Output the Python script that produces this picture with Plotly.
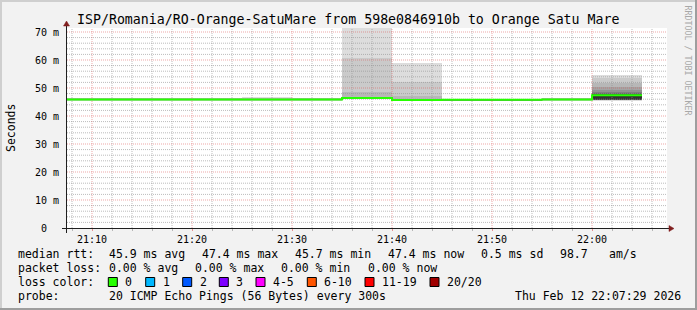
import pandas as pd
import plotly.graph_objects as go

# ---------------- data ----------------
DATE = "2026-02-12"
interval_start = ["21:05", "21:10", "21:15", "21:20", "21:25", "21:30",
                  "21:35", "21:40", "21:45", "21:50", "21:55", "22:00"]
STEP_S = 300
median_rtt_ms = [45.9, 45.9, 45.9, 45.9, 45.9, 45.9, 46.4, 45.7, 45.8, 45.8, 45.9, 47.4]
# 20 sorted ping RTTs (ms) per 5-minute interval
ping_rtt_ms = [
    [45.7, 45.7, 45.8, 45.8, 45.8, 45.8, 45.9, 45.9, 45.9, 45.9, 45.9, 45.9, 45.9, 46.0, 46.0, 46.0, 46.0, 46.1, 46.1, 46.2],
    [45.7, 45.7, 45.8, 45.8, 45.8, 45.8, 45.9, 45.9, 45.9, 45.9, 45.9, 45.9, 45.9, 46.0, 46.0, 46.0, 46.0, 46.1, 46.1, 46.2],
    [45.7, 45.7, 45.8, 45.8, 45.8, 45.8, 45.9, 45.9, 45.9, 45.9, 45.9, 45.9, 45.9, 46.0, 46.0, 46.0, 46.0, 46.1, 46.1, 46.2],
    [45.7, 45.7, 45.8, 45.8, 45.8, 45.8, 45.9, 45.9, 45.9, 45.9, 45.9, 45.9, 45.9, 46.0, 46.0, 46.0, 46.0, 46.1, 46.3, 46.6],
    [45.7, 45.7, 45.8, 45.8, 45.8, 45.8, 45.9, 45.9, 45.9, 45.9, 45.9, 45.9, 45.9, 46.0, 46.0, 46.0, 46.0, 46.1, 46.3, 46.7],
    [45.7, 45.7, 45.8, 45.8, 45.8, 45.8, 45.9, 45.9, 45.9, 45.9, 45.9, 45.9, 45.9, 46.0, 46.0, 46.0, 46.0, 46.1, 46.1, 46.2],
    [45.9, 46.0, 46.0, 46.1, 46.1, 46.2, 46.2, 46.3, 46.3, 46.4, 46.4, 46.4, 46.5, 46.5, 46.6, 46.6, 46.7, 48.5, 60.6, 76.0],
    [45.5, 45.5, 45.6, 45.6, 45.6, 45.7, 45.7, 45.7, 45.7, 45.7, 45.7, 45.8, 45.8, 45.8, 45.9, 45.9, 46.0, 47.2, 52.2, 58.8],
    [45.6, 45.6, 45.7, 45.7, 45.7, 45.7, 45.8, 45.8, 45.8, 45.8, 45.8, 45.8, 45.8, 45.9, 45.9, 45.9, 45.9, 46.0, 46.0, 46.1],
    [45.6, 45.6, 45.7, 45.7, 45.7, 45.7, 45.8, 45.8, 45.8, 45.8, 45.8, 45.8, 45.8, 45.9, 45.9, 45.9, 45.9, 46.0, 46.0, 46.1],
    [45.7, 45.7, 45.8, 45.8, 45.8, 45.8, 45.9, 45.9, 45.9, 45.9, 45.9, 45.9, 45.9, 46.0, 46.0, 46.0, 46.0, 46.1, 46.3, 46.6],
    [45.5, 45.6, 45.6, 45.7, 45.7, 45.7, 45.8, 45.8, 45.8, 45.9, 47.7, 47.8, 47.9, 48.1, 48.4, 49.3, 50.3, 51.9, 53.6, 54.8],
]
y_tick_vals = [0, 10, 20, 30, 40, 50, 60, 70]
y_tick_text = ["0\u00a0\u00a0", "10 m", "20 m", "30 m", "40 m", "50 m", "60 m", "70 m"]
view_start, view_end = "21:07:30", "22:07:30"
y_top_ms = 71.43

title_text = "ISP/Romania/RO-Orange-SatuMare from 598e0846910b to Orange Satu Mare"
y_title = "Seconds"
watermark = "RRDTOOL / TOBI OETIKER"
rtt_label = "median rtt:"
rtt_stats = ["45.9 ms avg", "47.4 ms max", "45.7 ms min", "47.4 ms now", "0.5 ms sd", "98.7", "am/s"]
loss_label = "packet loss:"
loss_stats = ["0.00 % avg", "0.00 % max", "0.00 % min", "0.00 % now"]
color_label = "loss color:"
loss_bins = ["0", "1", "2", "3", "4-5", "6-10", "11-19", "20/20"]
loss_colors = ["#26ff00", "#00b8ff", "#0059ff", "#7e00ff", "#ff00ff", "#ff5500", "#ff0000", "#a00000"]
probe_label = "probe:"
probe_text = "20 ICMP Echo Pings (56 Bytes) every 300s"
stamp_text = "Thu Feb 12 22:07:29 2026"

# ---------------- layout constants ----------------
W, H = 697, 310
L, R, T, B = 67, 667, 28, 228
FONT = "DejaVu Sans Mono"
MEDIAN_COLOR = "#26ff00"
MINOR_GRID = "rgba(143,143,143,0.6)"
MAJOR_GRID = "rgba(222,79,79,0.5)"


def px(x):
    return (x - L) / (R - L)


def py(y):
    return (B - y) / (B - T)


def fmt(t):
    return t.strftime("%Y-%m-%d %H:%M:%S")


step = pd.Timedelta(seconds=STEP_S)
starts = pd.to_datetime([f"{DATE} {s}" for s in interval_start])
centers = [fmt(t + step / 2) for t in starts]
t0 = pd.Timestamp(f"{DATE} {view_start}")
t1 = pd.Timestamp(f"{DATE} {view_end}")

fig = go.Figure()

# smoke (smokeping style nested grey bands)
half = len(ping_rtt_ms[0]) // 2
for k in range(half):
    shade = int(190 / half * (half - (k + 1))) + 50
    col = "#%02x%02x%02x" % (shade, shade, shade)
    lo = [p[k] for p in ping_rtt_ms]
    hi = [p[-1 - k] for p in ping_rtt_ms]
    fig.add_trace(go.Bar(
        x=centers, y=[h - l for h, l in zip(hi, lo)], base=lo,
        width=STEP_S * 1000, marker=dict(color=col, line=dict(width=0)),
        hoverinfo="skip", showlegend=False))

# grid (drawn above smoke, below median line)
grid_times = pd.date_range(t0.ceil("2min"), t1, freq="2min")
minor_t = [t for t in grid_times if t.minute % 10 != 0]
major_t = [t for t in grid_times if t.minute % 10 == 0]
minor_v = [v for v in range(2, int(y_top_ms) + 1, 2) if v % 10 != 0]
major_v = [v for v in y_tick_vals if v > 0]


def vgrid(times):
    xs, ys = [], []
    for t in times:
        xs += [fmt(t), fmt(t), None]
        ys += [0, y_top_ms, None]
    return xs, ys


def hgrid(vals):
    xs, ys = [], []
    for v in vals:
        xs += [fmt(t0), fmt(t1), None]
        ys += [v, v, None]
    return xs, ys


for (gx, gy), col in [(vgrid(minor_t), MINOR_GRID), (hgrid(minor_v), MINOR_GRID),
                      (vgrid(major_t), MAJOR_GRID), (hgrid(major_v), MAJOR_GRID)]:
    fig.add_trace(go.Scatter(x=gx, y=gy, mode="lines",
                             line=dict(color=col, width=1, dash="1px,1px"),
                             hoverinfo="skip", showlegend=False))

# median line
fig.add_trace(go.Scatter(
    x=[fmt(t) for t in starts] + [fmt(starts[-1] + step)],
    y=median_rtt_ms + [median_rtt_ms[-1]],
    mode="lines", line=dict(color=MEDIAN_COLOR, width=2, shape="hv"),
    hoverinfo="skip", showlegend=False))

shapes = []
# frame shading
shapes.append(dict(type="rect", xref="paper", yref="paper", x0=px(0), x1=px(W), y0=py(0), y1=py(2),
                   fillcolor="#cfcfcf", line=dict(width=0), layer="below"))
shapes.append(dict(type="rect", xref="paper", yref="paper", x0=px(0), x1=px(2), y0=py(0), y1=py(H),
                   fillcolor="#cfcfcf", line=dict(width=0), layer="below"))
shapes.append(dict(type="rect", xref="paper", yref="paper", x0=px(0), x1=px(W), y0=py(H - 2), y1=py(H),
                   fillcolor="#9e9e9e", line=dict(width=0), layer="below"))
shapes.append(dict(type="rect", xref="paper", yref="paper", x0=px(W - 2), x1=px(W), y0=py(0), y1=py(H),
                   fillcolor="#9e9e9e", line=dict(width=0), layer="below"))
# axes
AX = "#1f1f1f"
ARROW = "#801f1f"
shapes.append(dict(type="line", xref="paper", yref="paper", x0=px(62), x1=px(670), y0=py(228.5), y1=py(228.5),
                   line=dict(color=AX, width=1)))
shapes.append(dict(type="line", xref="paper", yref="paper", x0=px(66.5), x1=px(66.5), y0=py(233), y1=py(25),
                   line=dict(color=AX, width=1)))


def path(points):
    return "M " + " L ".join(f"{px(a)},{py(b)}" for a, b in points) + " Z"


shapes.append(dict(type="path", xref="paper", yref="paper",
                   path=path([(669, 225.5), (674, 228.5), (669, 231.5)]),
                   fillcolor=ARROW, line=dict(color=ARROW, width=0.5)))
shapes.append(dict(type="path", xref="paper", yref="paper",
                   path=path([(63.5, 26), (66.5, 21), (69.5, 26)]),
                   fillcolor=ARROW, line=dict(color=ARROW, width=0.5)))

annotations = []


def text(x, y, s, size=11.5, xanchor="left", color="black", angle=0):
    annotations.append(dict(x=px(x), y=py(y), xref="paper", yref="paper", text=s, showarrow=False,
                            xanchor=xanchor, yanchor="middle", textangle=angle,
                            font=dict(family=FONT, size=size, color=color)))


text(348, 19.5, title_text, size=13.25, xanchor="center")
text(11, 128, y_title, xanchor="center", angle=-90)
text(687.5, 60, watermark, size=8.3, xanchor="center", color="#a8a8a8", angle=90)

LINE_Y = [254.3, 268.2, 282.0, 295.6]
text(16, LINE_Y[0], rtt_label)
for x, s in zip([107.3, 200, 292.7, 386, 479, 557.7, 606.7], rtt_stats):
    text(x, LINE_Y[0], s)
text(16, LINE_Y[1], loss_label)
for x, s in zip([107.3, 193.3, 279.3, 366], loss_stats):
    text(x, LINE_Y[1], s)
text(16, LINE_Y[2], color_label)
for bx, s, c in zip([108.3, 145.7, 182.7, 219.3, 256, 307.3, 365, 430], loss_bins, loss_colors):
    shapes.append(dict(type="rect", xref="paper", yref="paper", x0=px(bx), x1=px(bx + 9),
                       y0=py(286.5), y1=py(277.5), fillcolor=c, line=dict(color="black", width=1)))
    text(bx + 15, LINE_Y[2], s)
text(16, LINE_Y[3], probe_label)
text(107.3, LINE_Y[3], probe_text)
text(513.3, LINE_Y[3], stamp_text)

fig.update_layout(
    width=W, height=H,
    margin=dict(l=L, r=W - R, t=T, b=H - B, pad=0),
    paper_bgcolor="#f2f2f2", plot_bgcolor="white",
    barmode="overlay", bargap=0,
    showlegend=False,
    font=dict(family=FONT, size=10, color="black"),
    shapes=shapes, annotations=annotations,
    xaxis=dict(type="date", range=[fmt(t0), fmt(t1)], showgrid=False, zeroline=False, showline=False,
               tickformat="%H:%M", dtick=600000, tick0=f"{DATE} 21:00:00",
               ticks="outside", ticklen=2, tickcolor="rgba(222,79,79,0.6)",
               tickfont=dict(family=FONT, size=10, color="black"), ticklabelstandoff=0,
               minor=dict(dtick=120000, ticks="outside", ticklen=2, tickcolor="rgba(143,143,143,0.6)",
                          showgrid=False),
               fixedrange=True),
    yaxis=dict(range=[0, y_top_ms], tickvals=y_tick_vals, ticktext=y_tick_text,
               showgrid=False, zeroline=False, showline=False, ticks="",
               tickfont=dict(family=FONT, size=10, color="black"), ticklabelstandoff=7,
               fixedrange=True),
)

fig.write_html("out.html")
